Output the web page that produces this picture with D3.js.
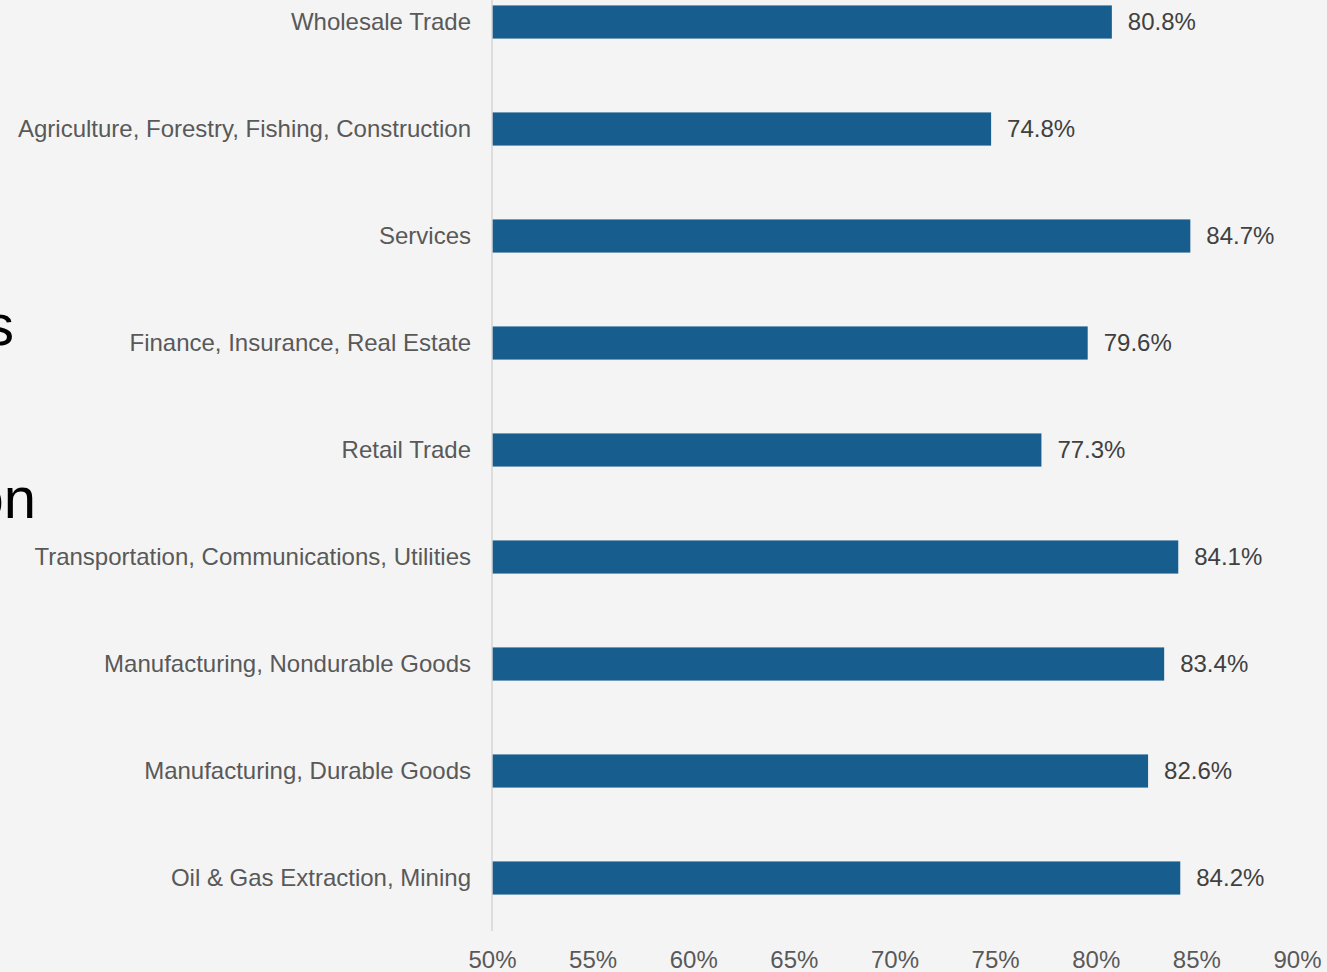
<!DOCTYPE html>
<html><head><meta charset="utf-8">
<script src="https://cdn.jsdelivr.net/npm/d3@7"></script>
<style>
html,body{margin:0;padding:0;background:#f4f4f4;overflow:hidden;}
svg{display:block;font-family:"Liberation Sans",Arial,sans-serif;}
</style></head>
<body>
<svg id="chart" width="1327" height="972"></svg>
<script>
const categories = [
  "Wholesale Trade",
  "Agriculture, Forestry, Fishing, Construction",
  "Services",
  "Finance, Insurance, Real Estate",
  "Retail Trade",
  "Transportation, Communications, Utilities",
  "Manufacturing, Nondurable Goods",
  "Manufacturing, Durable Goods",
  "Oil & Gas Extraction, Mining"
];
const values = [80.8, 74.8, 84.7, 79.6, 77.3, 84.1, 83.4, 82.6, 84.2];
const tickValues = [50, 55, 60, 65, 70, 75, 80, 85, 90];
const titleFragments = ["s", "on"];

const svg = d3.select("#chart");
svg.append("rect").attr("width",1327).attr("height",972).attr("fill","#f4f4f4");

const x = d3.scaleLinear().domain([50, 90]).range([492, 1297]);
const y = d3.scaleBand().domain(categories).range([-31.5, 931.5]).paddingInner(0.69).paddingOuter(0.345);

// clipped title fragments (cut off at the left edge, as in the reference)
svg.append("text").attr("x", 14).attr("y", 345).attr("text-anchor","end")
  .attr("font-size", 58).attr("fill", "#000").text(titleFragments[0]);
svg.append("text").attr("x", 36).attr("y", 518).attr("text-anchor","end")
  .attr("font-size", 58).attr("fill", "#000").text(titleFragments[1]);

// bars
svg.selectAll("rect.bar").data(categories).join("rect")
  .attr("class","bar")
  .attr("x", x(50))
  .attr("y", d => y(d))
  .attr("width", (d,i) => x(values[i]) - x(50))
  .attr("height", y.bandwidth())
  .attr("fill", "#175e8e");

// y axis line
svg.append("line").attr("x1", x(50)).attr("x2", x(50)).attr("y1", 0).attr("y2", 931)
  .attr("stroke", "#d6d6d6").attr("stroke-width", 1.5);

// category labels
const yAxis = d3.axisLeft(y).tickSize(0).tickPadding(21);
const gy = svg.append("g").attr("transform", `translate(${x(50)},0)`).call(yAxis);
gy.select(".domain").remove();
gy.selectAll("text").attr("font-size", 24).attr("fill", "#595959")
  .attr("font-family", '"Liberation Sans",Arial,sans-serif');

// value labels
svg.selectAll("text.val").data(categories).join("text")
  .attr("class","val")
  .attr("x", (d,i) => x(values[i]) + 16)
  .attr("y", d => y(d) + y.bandwidth()/2)
  .attr("dy", "0.35em")
  .attr("font-size", 24).attr("fill", "#404040")
  .text((d,i) => values[i].toFixed(1) + "%");

// x axis
const xAxis = d3.axisBottom(x).tickValues(tickValues).tickSize(0).tickPadding(0)
  .tickFormat(d => d + "%");
const gx = svg.append("g").attr("transform", `translate(0,951)`).call(xAxis);
gx.select(".domain").remove();
gx.selectAll("text").attr("font-size", 24).attr("fill", "#595959")
  .attr("font-family", '"Liberation Sans",Arial,sans-serif');
</script>
</body></html>
